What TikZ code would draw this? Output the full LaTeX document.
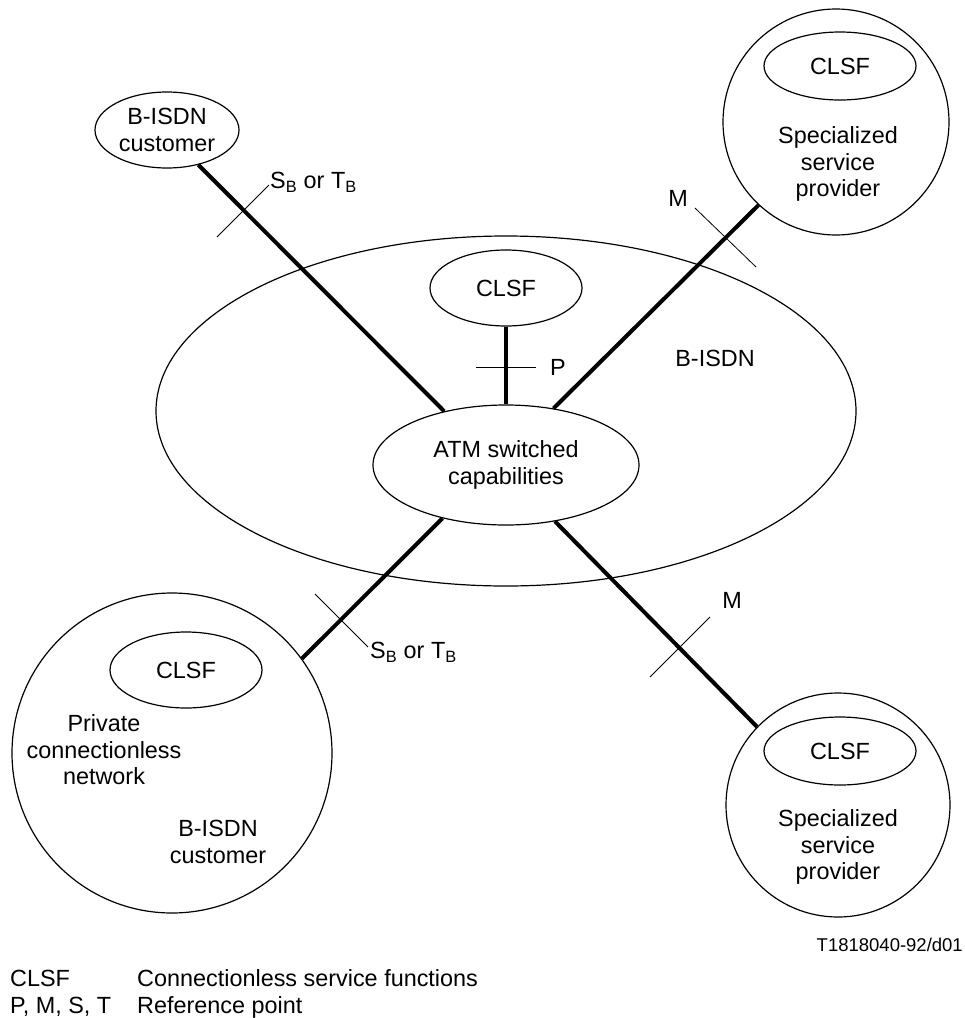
\documentclass[tikz,border=0pt]{standalone}
\usepackage{fontspec}
\setmainfont{Liberation Sans}
\usetikzlibrary{shapes.geometric}
\begin{document}
\begin{tikzpicture}[x=1pt,y=-1pt,
  every node/.style={font=\fontsize{23.4}{26.5}\selectfont, align=center, inner sep=0pt},
  oval/.style={draw, ellipse, line width=1.2pt},
  clsf/.style={oval, minimum width=152pt, minimum height=76pt},
  site/.style={draw, circle, line width=1.2pt},
  link/.style={line width=4pt},
  tick/.style={line width=0.8pt}]
\useasboundingbox (0,0) rectangle (965,1018);
\node[oval, minimum width=700pt, minimum height=350pt] (bisdn) at (506,411) {};
\node at (715,358) {B-ISDN};
\node[oval, minimum width=266pt, minimum height=120pt] (atm) at (506,465) {ATM switched\\capabilities};
\node[clsf] (clsfc) at (506,288) {CLSF};
\node[oval, minimum width=144pt, minimum height=76pt] (cust) at (167,130) {B-ISDN\\customer};
\node[site, minimum size=226pt] (ssp1) at (836,122) {};
\node[clsf, minimum height=68pt] (clsf1) at (840,66) {CLSF};
\node (ssp1txt) at (838,164) {Specialized\\service\\provider};
\node[site, minimum size=224pt] (ssp2) at (838,805) {};
\node[clsf, minimum height=68pt] (clsf2) at (840,751) {CLSF};
\node (ssp2txt) at (838,847) {Specialized\\service\\provider};
\node[site, minimum size=320pt] (priv) at (172,753) {};
\node[clsf] (clsf3) at (186,670) {CLSF};
\node (privtxt) at (104,750) {Private\\connectionless\\network};
\node (privcust) at (218,842) {B-ISDN\\customer};
\draw[link] (cust.-48) -- (atm.139);
\draw[link] (ssp1.227) -- (atm.50);
\draw[link] (atm.-140) -- (priv.36);
\draw[link] (atm.-49) -- (ssp2.136);
\draw[link] (clsfc.south) -- (atm.north);
\draw[tick] (217,237) -- (269,185);
\draw[tick] (695,208) -- (756,267);
\draw[tick] (476,367) -- (536,367);
\draw[tick] (315,594) -- (368,647);
\draw[tick] (650,677) -- (710,617);
\node[anchor=west] (sbt1) at (270,182) {S\textsubscript{B} or T\textsubscript{B}};
\node[anchor=west] (sbt2) at (370,652) {S\textsubscript{B} or T\textsubscript{B}};
\node (p) at (558,367) {P};
\node (m1) at (678,198) {M};
\node (m2) at (732,600) {M};
\node[anchor=east, font=\fontsize{18.5}{22}\selectfont] (id) at (963,945) {T1818040-92/d01};
\node[anchor=base west] (k1) at (10,986) {CLSF};
\node[anchor=base west] (v1) at (137,986) {Connectionless service functions};
\node[anchor=base west] (k2) at (10,1013) {P, M, S, T};
\node[anchor=base west] (v2) at (137,1013) {Reference point};
\end{tikzpicture}
\end{document}
